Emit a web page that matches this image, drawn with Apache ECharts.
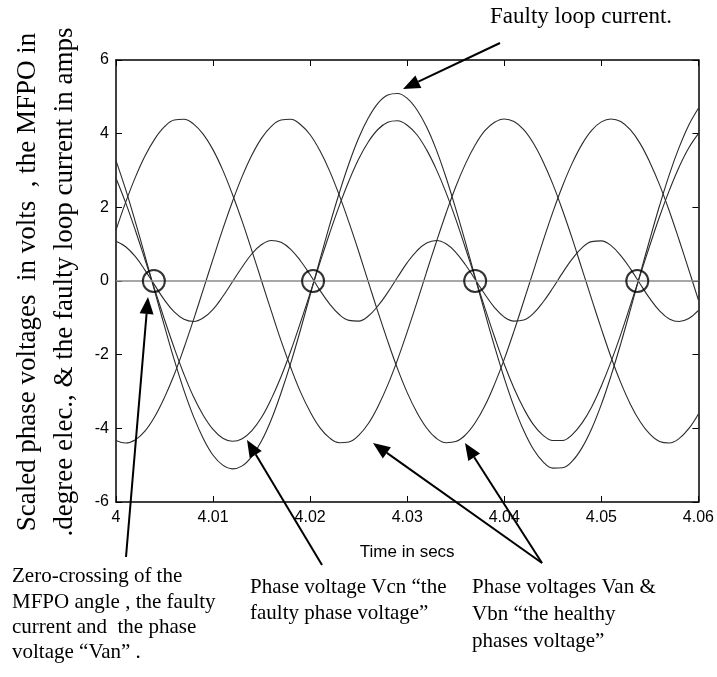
<!DOCTYPE html>
<html><head><meta charset="utf-8">
<script src="https://cdn.jsdelivr.net/npm/echarts/dist/echarts.min.js"></script>
<style>html,body{margin:0;padding:0;background:#fff}#c{width:717px;height:677px}</style>
</head><body><div id="c"></div>
<script>
// time samples (s)
const time = [4.000,4.001,4.002,4.003,4.004,4.005,4.006,4.007,4.008,4.009,
4.010,4.011,4.012,4.013,4.014,4.015,4.016,4.017,4.018,4.019,
4.020,4.021,4.022,4.023,4.024,4.025,4.026,4.027,4.028,4.029,
4.030,4.031,4.032,4.033,4.034,4.035,4.036,4.037,4.038,4.039,
4.040,4.041,4.042,4.043,4.044,4.045,4.046,4.047,4.048,4.049,
4.050,4.051,4.052,4.053,4.054,4.055,4.056,4.057,4.058,4.059,4.060];

// faulty phase voltage Vcn (scaled)
const vcn = [2.79,2.12,1.37,0.57,-0.24,-1.05,-1.82,-2.53,-3.15,-3.65,
-4.03,-4.27,-4.35,-4.28,-4.06,-3.70,-3.20,-2.60,-1.90,-1.13,
-0.33,0.49,1.29,2.04,2.72,3.31,3.78,4.12,4.31,4.35,
4.23,3.97,3.56,3.03,2.40,1.68,0.89,0.08,-0.73,-1.52,
-2.26,-2.91,-3.46,-3.90,-4.19,-4.33,-4.33,-4.17,-3.86,-3.42,
-2.85,-2.19,-1.45,-0.65,0.16,0.97,1.75,2.46,3.09,3.61,4.00];

// faulty loop current (amps)
const current = [3.27,2.48,1.60,0.67,-0.29,-1.23,-2.14,-2.97,-3.69,-4.28,
-4.73,-5.00,-5.10,-5.02,-4.76,-4.34,-3.76,-3.04,-2.23,-1.33,
-0.38,0.57,1.51,2.39,3.19,3.88,4.43,4.83,5.05,5.09,
4.96,4.65,4.18,3.56,2.81,1.96,1.05,0.10,-0.86,-1.78,
-2.64,-3.41,-4.06,-4.57,-4.91,-5.08,-5.07,-4.89,-4.53,-4.01,
-3.35,-2.57,-1.70,-0.77,0.19,1.14,2.05,2.89,3.62,4.23,4.69];

// healthy phase voltage Van (scaled)
const van = [1.38,2.14,2.82,3.40,3.86,4.19,4.37,4.39,4.26,3.98,
3.56,3.01,2.35,1.62,0.82,0.00,-0.82,-1.62,-2.35,-3.01,
-3.55,-3.98,-4.26,-4.39,-4.37,-4.19,-3.87,-3.40,-2.82,-2.14,
-1.38,-0.58,0.25,1.06,1.84,2.56,3.18,3.69,4.08,4.31,
4.40,4.33,4.11,3.74,3.24,2.63,1.92,1.15,0.33,-0.49,
-1.30,-2.07,-2.76,-3.35,-3.82,-4.16,-4.36,-4.40,-4.28,-4.01,-3.61];

// healthy phase voltage Vbn (scaled)
const vbn = [-4.33,-4.40,-4.31,-4.07,-3.68,-3.16,-2.54,-1.82,-1.04,-0.22,
0.60,1.41,2.16,2.84,3.42,3.88,4.20,4.37,4.39,4.25,
3.97,3.54,2.99,2.33,1.59,0.80,-0.03,-0.85,-1.64,-2.38,
-3.03,-3.57,-3.99,-4.27,-4.39,-4.36,-4.18,-3.85,-3.39,-2.80,
-2.12,-1.36,-0.55,0.27,1.09,1.87,2.58,3.20,3.71,4.09,
4.32,4.40,4.33,4.10,3.73,3.22,2.61,1.90,1.12,0.31,-0.52];

// MFPO angle (scaled, degree elec.)
const mfpo = [1.08,0.93,0.66,0.29,-0.12,-0.52,-0.84,-1.04,-1.10,-1.00,
-0.77,-0.42,-0.02,0.38,0.74,0.99,1.10,1.05,0.86,0.55,
0.17,-0.25,-0.62,-0.91,-1.07,-1.09,-0.95,-0.67,-0.31,0.10,
0.50,0.82,1.03,1.10,1.01,0.78,0.44,0.04,-0.36,-0.72,
-0.98,-1.09,-1.06,-0.88,-0.57,-0.19,0.22,0.60,0.90,1.07,
1.09,0.96,0.69,0.33,-0.08,-0.48,-0.81,-1.03,-1.10,-1.02,-0.80];

// zero-crossing instants (circled)
const zeroCrossT = [4.0039, 4.0203, 4.0370, 4.0537];
const zeroCrossV = [0, 0, 0, 0];

// tick labels
const xTickLabels = ['4','4.01','4.02','4.03','4.04','4.05','4.06'];
const yTickLabels = ['-6','-4','-2','0','2','4','6'];

const pair = arr => time.map((t, i) => [t, arr[i]]);
const chart = echarts.init(document.getElementById('c'), null, {renderer: 'canvas'});

const SANS = 'Liberation Sans, Arial, sans-serif';
const SERIF = 'Liberation Serif, Times New Roman, serif';
const axisLine = {show: true, onZero: false, lineStyle: {color: '#000', width: 1.5}};
const tick = {show: true, inside: true, length: 6, lineStyle: {color: '#000', width: 1}};

function curve(name, arr) {
  return {name, type: 'line', data: pair(arr), smooth: 0.4, showSymbol: false, symbol: 'none',
    lineStyle: {color: '#2a2a2a', width: 1.1}, z: 3, animation: false};
}

function arrow(x1, y1, x2, y2) {
  const a = Math.atan2(y2 - y1, x2 - x1), L = 17, W = 7;
  const bx = x2 - L * Math.cos(a), by = y2 - L * Math.sin(a);
  return [
    {type: 'line', shape: {x1, y1, x2: bx, y2: by}, style: {stroke: '#000', lineWidth: 2}, z: 10},
    {type: 'polygon', shape: {points: [[x2, y2], [bx + W * Math.sin(a), by - W * Math.cos(a)], [bx - W * Math.sin(a), by + W * Math.cos(a)]]},
      style: {fill: '#000'}, z: 10}
  ];
}
function txt(x, y, s, size, extra) {
  return Object.assign({type: 'text', x, y, z: 10,
    style: {text: s, fontFamily: SERIF, fontSize: size, fill: '#000', textAlign: 'left', textVerticalAlign: 'middle'}}, extra || {});
}

const series = [
  curve('Vcn', vcn), curve('Faulty loop current', current), curve('Van', van), curve('Vbn', vbn),
  curve('MFPO', mfpo),
  {type: 'line', data: [], markLine: {silent: true, symbol: 'none', label: {show: false},
    lineStyle: {color: '#8a8a8a', width: 1.6, type: 'solid'}, data: [{yAxis: 0}]}, z: 2},
  {type: 'scatter', data: zeroCrossT.map((t, i) => [t, zeroCrossV[i]]), symbol: 'circle', symbolSize: 22,
    itemStyle: {color: 'rgba(0,0,0,0)', borderColor: '#000', borderWidth: 2}, z: 6, silent: true}
];

const graphics = [].concat(
  arrow(500, 43, 403, 89),
  arrow(126, 557, 148, 297),
  arrow(322, 565, 247, 440),
  arrow(542, 563, 373, 443),
  arrow(542, 563, 465, 443),
  [
    txt(490, 17, 'Faulty loop current.', 23),
    txt(12, 576, 'Zero-crossing of the', 21),
    txt(12, 602, 'MFPO angle , the faulty', 21),
    txt(12, 627, 'current and  the phase', 21),
    txt(12, 652, 'voltage \u201cVan\u201d .', 21),
    txt(250, 587, 'Phase voltage Vcn \u201cthe', 21),
    txt(250, 613, 'faulty phase voltage\u201d', 21),
    txt(472, 587, 'Phase voltages Van &', 21),
    txt(472, 614, 'Vbn \u201cthe healthy', 21),
    txt(472, 641, 'phases voltage\u201d', 21),
    {type: 'text', x: 28, y: 282, rotation: Math.PI / 2, z: 10,
      style: {text: 'Scaled phase voltages  in volts  , the MFPO in', fontFamily: SERIF, fontSize: 27, fill: '#000', textAlign: 'center', textVerticalAlign: 'middle'}},
    {type: 'text', x: 65, y: 282, rotation: Math.PI / 2, z: 10,
      style: {text: '.degree elec., & the faulty loop current in amps', fontFamily: SERIF, fontSize: 27, fill: '#000', textAlign: 'center', textVerticalAlign: 'middle'}}
  ]
);

chart.setOption({
  animation: false,
  backgroundColor: '#fff',
  grid: {left: 116, right: 17, top: 60, bottom: 175, containLabel: false},
  xAxis: [
    {type: 'value', min: 4, max: 4.06, interval: 0.01, position: 'bottom', axisLine, axisTick: tick,
      splitLine: {show: false},
      axisLabel: {fontFamily: SANS, fontSize: 16, color: '#000', margin: 8,
        formatter: v => xTickLabels[Math.round((v - 4) / 0.01)]},
      name: 'Time in secs', nameLocation: 'middle', nameGap: 42,
      nameTextStyle: {fontFamily: SANS, fontSize: 17, color: '#000'}},
    {type: 'value', min: 4, max: 4.06, interval: 0.01, position: 'top', axisLine, axisTick: tick,
      splitLine: {show: false}, axisLabel: {show: false}}
  ],
  yAxis: [
    {type: 'value', min: -6, max: 6, interval: 2, position: 'left', axisLine, axisTick: tick,
      splitLine: {show: false},
      axisLabel: {fontFamily: SANS, fontSize: 16, color: '#000', margin: 7,
        formatter: v => yTickLabels[Math.round((v + 6) / 2)]}},
    {type: 'value', min: -6, max: 6, interval: 2, position: 'right', axisLine, axisTick: tick,
      splitLine: {show: false}, axisLabel: {show: false}}
  ],
  series,
  graphic: graphics
});
</script>
</body></html>
